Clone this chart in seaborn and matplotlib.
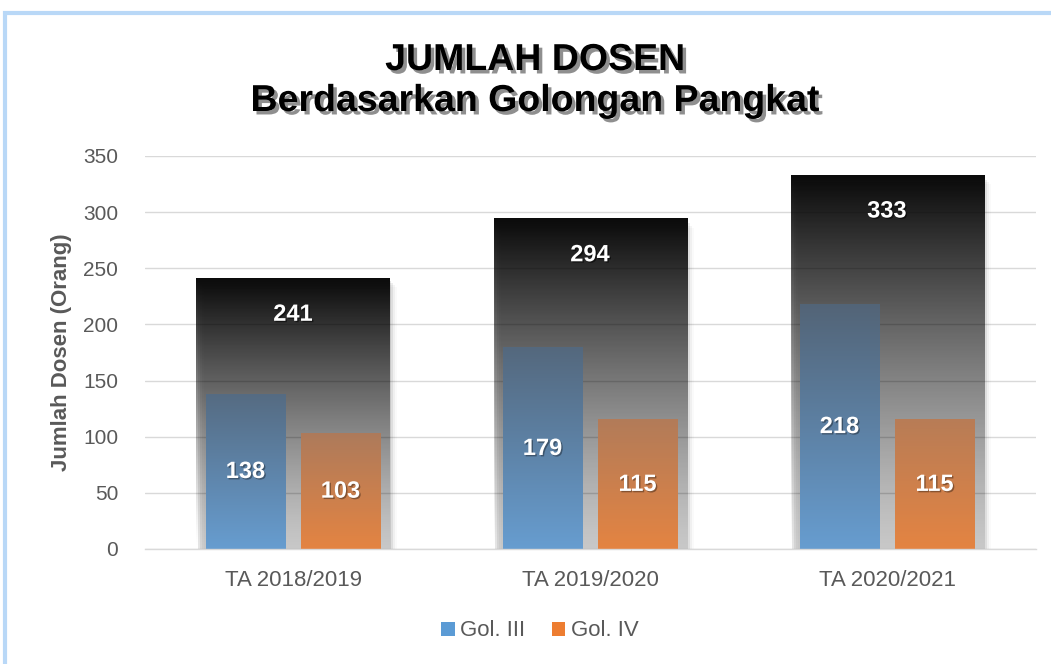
import numpy as np
import pandas as pd
import matplotlib
matplotlib.use("Agg")
import matplotlib.pyplot as plt
import matplotlib.patheffects as pe
from matplotlib.patches import Rectangle, Patch
import seaborn as sns

# ---- data ----
categories = ["TA 2018/2019", "TA 2019/2020", "TA 2020/2021"]
series_names = ["Gol. III", "Gol. IV"]
gol_iii = [138, 179, 218]
gol_iv = [103, 115, 115]
total = [241, 294, 333]
yticks = [0, 50, 100, 150, 200, 250, 300, 350]
title_line1 = "JUMLAH DOSEN"
title_line2 = "Berdasarkan Golongan Pangkat"
ylabel = "Jumlah Dosen (Orang)"

# ---- style ----
sns.set_theme(style="white")
plt.rcParams['font.family'] = ['Liberation Sans', 'DejaVu Sans']

legend_colors = ["#5b9bd5", "#ed7d31"]
bottom_cols = {"Gol. III": np.array([103, 157, 208]) / 255,
               "Gol. IV": np.array([228, 132, 66]) / 255}
dark_cols = {"Gol. III": np.array([72, 70, 72]) / 255,
             "Gol. IV": np.array([100, 110, 125]) / 255}
grey = "#595959"

fig = plt.figure(figsize=(10.51, 6.64), dpi=100)
fig.patch.set_facecolor("white")
ax = fig.add_axes([0.1375, 0.1732, 0.8478, 0.5919])

df_tot = pd.DataFrame({"cat": categories, "val": total})
sns.barplot(data=df_tot, x="cat", y="val", ax=ax, width=0.65, color="black",
            errorbar=None, zorder=1)
tot_patches = list(ax.patches)

df = pd.DataFrame({"cat": categories * 2,
                   "series": [series_names[0]] * 3 + [series_names[1]] * 3,
                   "val": gol_iii + gol_iv})
sns.barplot(data=df, x="cat", y="val", hue="series", hue_order=series_names,
            ax=ax, width=0.64, gap=0.16, palette=legend_colors,
            errorbar=None, zorder=2, legend=False)
ser_patches = [p for p in ax.patches if p not in tot_patches]

N = 256
# total bars: black gradient fading to transparent at bottom
for p in tot_patches:
    x0, w, h = p.get_x(), p.get_width(), p.get_height()
    f = np.linspace(0, 1, N)
    img = np.zeros((N, 1, 4))
    img[:, 0, 3] = 0.96 * f ** 1.3
    ax.imshow(img, extent=[x0, x0 + w, 0, h], origin="lower", aspect="auto",
              zorder=1, interpolation="bilinear")
    # soft shadow on right side
    for k, a in enumerate([0.10, 0.07, 0.04, 0.02]):
        dx = 0.006 * (k + 1)
        sh = Rectangle((x0 + dx, -2), w, h + 2 - 2 * (k + 1), facecolor="black",
                       alpha=a, edgecolor="none", zorder=0.9)
        ax.add_patch(sh)
    p.set_visible(False)
    ci = int(round(x0 + w / 2))
    ax.text(x0 + w / 2, h - 32, f"{total[ci]}", ha="center", va="center",
            color="white", fontsize=17, fontweight="bold", zorder=5,
            path_effects=[pe.withSimplePatchShadow(offset=(1, -1), shadow_rgbFace="black", alpha=0.5)])

# series bars: vertical gradient relative to total height
for p in ser_patches:
    x0, w, h = p.get_x(), p.get_width(), p.get_height()
    xc = x0 + w / 2
    ci = int(round(xc))
    name = series_names[0] if xc < ci else series_names[1]
    f = np.linspace(0, h / total[ci], N)[:, None]
    cols = bottom_cols[name][None, :] * (1 - f) + dark_cols[name][None, :] * f
    img = np.concatenate([cols, np.ones((N, 1))], axis=1)[:, None, :]
    ax.imshow(img, extent=[x0, x0 + w, 0, h], origin="lower", aspect="auto",
              zorder=2, interpolation="bilinear")
    p.set_visible(False)
    ax.text(xc, h / 2, f"{int(round(h))}", ha="center", va="center",
            color="white", fontsize=17, fontweight="bold", zorder=5,
            path_effects=[pe.withSimplePatchShadow(offset=(1, -1), shadow_rgbFace="black", alpha=0.35)])

ax.set_xlim(-0.5, 2.5)
ax.set_ylim(0, 350)
ax.set_yticks(yticks)
ax.set_yticklabels([str(t) for t in yticks])
ax.yaxis.grid(True, color="#d9d9d9", lw=1)
ax.set_axisbelow(True)
ax.tick_params(axis="y", length=0, pad=19, labelsize=15, labelcolor=grey)
ax.tick_params(axis="x", length=0, pad=15, labelsize=16, labelcolor=grey)
ax.set_xlabel("")
ax.set_ylabel("")
for s in ["left", "right", "top"]:
    ax.spines[s].set_visible(False)
ax.spines["bottom"].set_color("#d9d9d9")
ax.spines["bottom"].set_linewidth(1)

fig.text(62 / 1051, 1 - 352 / 664, ylabel, rotation=90, ha="center", va="center",
         fontsize=16, fontweight="bold", color=grey)

title_pe = [pe.withSimplePatchShadow(offset=(2.5, -2.5), shadow_rgbFace="#444444", alpha=0.6)]
fig.text(535 / 1051, 1 - 60 / 664, title_line1, ha="center", va="center",
         fontsize=27, fontweight="bold", color="black", path_effects=title_pe)
fig.text(535 / 1051, 1 - 101 / 664, title_line2, ha="center", va="center",
         fontsize=27, fontweight="bold", color="black", path_effects=title_pe)

handles = [Patch(facecolor=c, edgecolor="none") for c in legend_colors]
leg = fig.legend(handles, series_names, loc="center", bbox_to_anchor=(540 / 1051, 1 - 631 / 664),
                 ncol=2, frameon=False, fontsize=16, handlelength=0.6, handleheight=0.6,
                 handletextpad=0.25, columnspacing=1.2)
for t in leg.get_texts():
    t.set_color(grey)

# light blue frame
frame = Rectangle((5 / 1051, -0.2), 1.2, 1 - 13 / 664 + 0.2, transform=fig.transFigure,
                  fill=False, edgecolor="#b9d8f7", lw=3, zorder=10)
fig.patches.append(frame)

fig.savefig("out.png", dpi=100)
